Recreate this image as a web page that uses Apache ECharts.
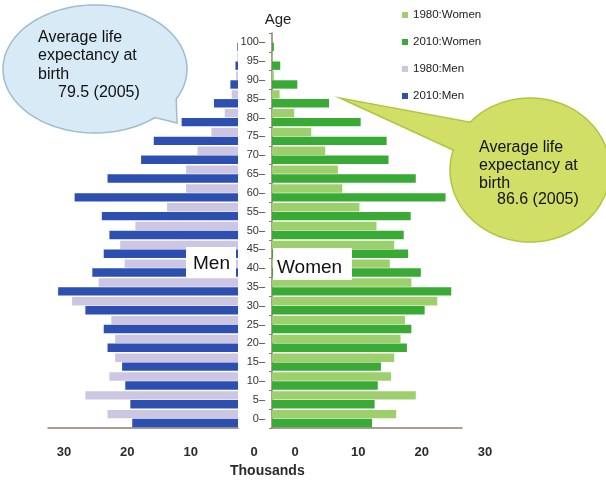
<!DOCTYPE html>
<html>
<head>
<meta charset="utf-8">
<script src="https://cdn.jsdelivr.net/npm/echarts@6/dist/echarts.min.js"></script>
<style>
  html, body { margin: 0; padding: 0; background: #ffffff; }
  #chart { width: 606px; height: 483px; }
</style>
</head>
<body>
<div id="chart"></div>
<script>
// Age groups, youngest first (drawn bottom to top)
const ageGroups = ['0–', '5–', '10–', '15–', '20–', '25–', '30–', '35–', '40–', '45–', '50–',
  '55–', '60–', '65–', '70–', '75–', '80–', '85–', '90–', '95–', '100–'];

// Population in thousands per 5-year age group
const men1980 = [20.6, 24.1, 20.3, 19.4, 19.4, 20.0, 26.2, 22.0, 17.9, 18.6, 16.2,
  11.2, 8.2, 8.2, 6.4, 4.2, 2.1, 1.0, 0.3, 0.1, 0];
const men2010 = [16.7, 17.0, 17.8, 18.3, 20.6, 21.2, 24.1, 28.4, 23.0, 21.2, 20.3,
  21.5, 25.8, 20.6, 15.3, 13.3, 8.9, 3.8, 1.2, 0.4, 0.1];
const women1980 = [19.6, 22.7, 18.8, 19.3, 20.3, 21.0, 26.1, 22.0, 18.6, 19.3, 16.5,
  13.8, 11.1, 10.4, 8.4, 6.2, 3.5, 1.2, 0.3, 0.1, 0];
const women2010 = [15.8, 16.2, 16.7, 17.2, 21.3, 22.0, 24.1, 28.3, 23.5, 21.5, 20.8,
  21.9, 27.4, 22.7, 18.4, 18.1, 14.0, 9.0, 4.0, 1.3, 0.3];

const thousandTicks = [0, 10, 20, 30];

const FONT = '"Liberation Sans", Arial, Helvetica, sans-serif';
const AXIS_COLOR = '#8d7c70';
const COLORS = {
  women1980: '#9dd06c',
  women2010: '#3aaa37',
  men1980: '#cdc6e3',
  men2010: '#2d4fb0'
};

// Outline of a speech bubble: an elliptical arc from startDeg to endDeg
// followed by a pointed tail ending at tip.
function bubbleOutline(cx, cy, rx, ry, startDeg, endDeg, tip) {
  const pts = [];
  const steps = 120;
  for (let i = 0; i <= steps; i++) {
    const a = (startDeg + (endDeg - startDeg) * i / steps) * Math.PI / 180;
    pts.push([cx + rx * Math.cos(a), cy + ry * Math.sin(a)]);
  }
  pts.push(tip);
  return pts;
}

const chart = echarts.init(document.getElementById('chart'), null, { renderer: 'canvas' });

function valueAxis(gridIndex, inverse, labelShift) {
  return {
    type: 'value',
    gridIndex: gridIndex,
    inverse: inverse,
    min: thousandTicks[0],
    max: thousandTicks[thousandTicks.length - 1],
    interval: thousandTicks[1] - thousandTicks[0],
    axisLine: { show: true, lineStyle: { color: AXIS_COLOR, width: 1.5 } },
    axisTick: { show: false },
    splitLine: { show: false },
    axisLabel: {
      fontFamily: FONT, fontSize: 13, fontWeight: 'bold', color: '#2b2b2b',
      margin: 18, padding: [0, 0, 0, labelShift * 2]
    }
  };
}

const barCommon = {
  type: 'bar',
  barCategoryGap: '8%',
  barGap: '6%',
  animation: false
};

const option = {
  backgroundColor: '#ffffff',
  animation: false,
  textStyle: { fontFamily: FONT },
  legend: {
    orient: 'vertical',
    left: 397,
    top: 3,
    itemWidth: 6,
    itemHeight: 6,
    itemGap: 13,
    icon: 'rect',
    textStyle: { fontFamily: FONT, fontSize: 11.5, color: '#222222', lineHeight: 14 },
    data: ['1980:Women', '2010:Women', '1980:Men', '2010:Men']
  },
  title: {
    text: 'Thousands',
    left: 225,
    top: 459,
    textStyle: { fontFamily: FONT, fontSize: 14, fontWeight: 'bold', color: '#2b2b2b' }
  },
  grid: [
    { left: 48, right: 368, top: 33, bottom: 55 },
    { left: 272, right: 144, top: 33, bottom: 55 }
  ],
  xAxis: [
    valueAxis(0, true, 16),
    valueAxis(1, false, 23)
  ],
  yAxis: [
    {
      type: 'category', gridIndex: 0, data: ageGroups,
      axisLine: { show: false }, axisTick: { show: false }, axisLabel: { show: false }
    },
    {
      type: 'category', gridIndex: 1, data: ageGroups,
      name: 'Age', nameLocation: 'end', nameGap: 6,
      nameTextStyle: { fontFamily: FONT, fontSize: 15, color: '#1e1e1e', padding: [0, 0, 0, 12] },
      axisLine: { show: true, lineStyle: { color: AXIS_COLOR, width: 1.5 } },
      axisTick: { show: true, length: 3, lineStyle: { color: AXIS_COLOR } },
      axisLabel: { fontFamily: FONT, fontSize: 11, color: '#333333', margin: 7 }
    }
  ],
  series: [
    Object.assign({}, barCommon, { name: '1980:Women', xAxisIndex: 1, yAxisIndex: 1,
      itemStyle: { color: COLORS.women1980 }, data: women1980 }),
    Object.assign({}, barCommon, { name: '2010:Women', xAxisIndex: 1, yAxisIndex: 1,
      itemStyle: { color: COLORS.women2010 }, data: women2010 }),
    Object.assign({}, barCommon, { name: '1980:Men', xAxisIndex: 0, yAxisIndex: 0,
      itemStyle: { color: COLORS.men1980 }, data: men1980 }),
    Object.assign({}, barCommon, { name: '2010:Men', xAxisIndex: 0, yAxisIndex: 0,
      itemStyle: { color: COLORS.men2010 }, data: men2010 })
  ],
  graphic: {
    elements: [
      // "Men" / "Women" labels on white panels
      { type: 'rect', z: 100, shape: { x: 186, y: 247, width: 50, height: 31 }, style: { fill: '#ffffff' } },
      { type: 'text', z: 101, x: 193, y: 254,
        style: { text: 'Men', font: '19px ' + FONT, fill: '#111111' } },
      { type: 'rect', z: 100, shape: { x: 273, y: 248, width: 79, height: 32 }, style: { fill: '#ffffff' } },
      { type: 'text', z: 101, x: 277, y: 258,
        style: { text: 'Women', font: '19px ' + FONT, fill: '#111111' } },

      // left speech bubble (men)
      { type: 'polygon', z: 90,
        shape: { points: bubbleOutline(95, 69, 92, 64, 49.3, 388, [177, 123]) },
        style: { fill: '#d7eaf6', stroke: '#9fbccf', lineWidth: 1.5 } },
      { type: 'text', z: 91, x: 38, y: 28,
        style: { text: 'Average life\nexpectancy at\nbirth', font: '16px ' + FONT, fill: '#111111', lineHeight: 18.7 } },
      { type: 'text', z: 91, x: 58, y: 85,
        style: { text: '79.5 (2005)', font: '16px ' + FONT, fill: '#111111' } },

      // right speech bubble (women)
      { type: 'polygon', z: 90,
        shape: { points: bubbleOutline(530, 170, 80, 72, 221.6, 556.1, [340, 98]) },
        style: { fill: '#d2df66', stroke: '#b1c543', lineWidth: 1.5 } },
      { type: 'text', z: 91, x: 479, y: 139,
        style: { text: 'Average life\nexpectancy at\nbirth', font: '16px ' + FONT, fill: '#111111', lineHeight: 17.8 } },
      { type: 'text', z: 91, x: 497, y: 192,
        style: { text: '86.6 (2005)', font: '16px ' + FONT, fill: '#111111' } }
    ]
  }
};

chart.setOption(option);
</script>
</body>
</html>
